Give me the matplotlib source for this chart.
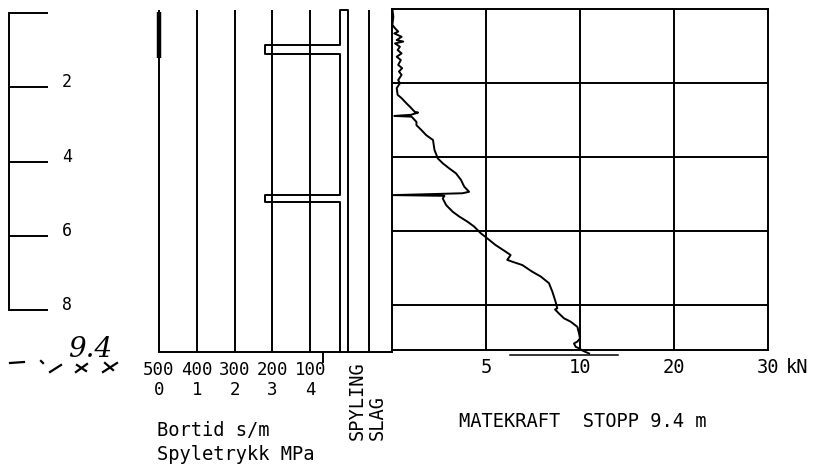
import numpy as np
import matplotlib
matplotlib.use("Agg")
import matplotlib.pyplot as plt
from matplotlib.lines import Line2D
from matplotlib.transforms import blended_transform_factory

# ---------------- data ----------------
depth_ticks = [2, 4, 6, 8]
depth_labels = ["2", "4", "6", "8"]

bortid_ticks = [500, 400, 300, 200, 100]          # s/m
bortid_labels = ["500", "400", "300", "200", "100"]
spyletrykk_ticks = [0, 1, 2, 3, 4]                 # MPa
spyletrykk_labels = ["0", "1", "2", "3", "4"]
bortid_max_depth = [0.05, 1.3]                     # bortid off scale (>=500 s/m)

spyling_intervals = [(0.95, 1.19), (5.00, 5.19)]   # depth intervals with flushing

kraft_scale_pts = [0, 5, 10, 20, 30]               # kN, piecewise axis
kraft_ticks = [5, 10, 20, 30]
kraft_labels = ["5", "10", "20", "30"]
kraft_depth = [0.00, 0.21, 0.43, 0.52, 0.61, 0.66, 0.75, 0.84, 0.88, 0.93,
               1.02, 1.11, 1.20, 1.29, 1.38, 1.51, 1.60, 1.69, 1.78, 1.92,
               2.01, 2.14, 2.32, 2.41, 2.55, 2.64, 2.78, 2.80, 2.86, 2.89,
               2.91, 3.05, 3.14, 3.27, 3.41, 3.54, 3.81, 4.04, 4.17, 4.31,
               4.44, 4.62, 4.80, 4.94, 4.98, 5.03, 5.05, 5.12, 5.30, 5.48,
               5.61, 5.75, 5.88, 6.06, 6.20, 6.38, 6.56, 6.65, 6.78, 6.83,
               6.92, 7.10, 7.23, 7.41, 7.64, 7.91, 8.09, 8.12, 8.23, 8.36,
               8.45, 8.59, 8.77, 8.90, 8.99, 9.04, 9.13, 9.17, 9.23, 9.31]
kraft_kn = [0.02, 0.07, 0.02, 0.16, 0.33, 0.12, 0.51, 0.25, 0.60, 0.16,
            0.42, 0.30, 0.51, 0.25, 0.47, 0.33, 0.54, 0.37, 0.51, 0.33,
            0.42, 0.25, 0.30, 0.51, 0.77, 0.95, 1.21, 1.39, 1.00, 0.12,
            1.04, 1.30, 1.30, 1.56, 1.82, 2.18, 2.26, 2.44, 2.70, 3.05,
            3.40, 3.67, 3.84, 4.10, 3.75, 0.07, 2.79, 2.70, 2.88, 3.23,
            3.58, 4.02, 4.37, 4.72, 5.07, 5.51, 6.05, 6.31, 6.13, 6.40,
            6.93, 7.46, 7.91, 8.35, 8.53, 8.70, 8.79, 8.67, 8.88, 9.15,
            9.50, 9.86, 9.95, 10.00, 9.86, 9.68, 9.77, 9.95, 10.25, 10.96]
stop_depth = 9.35
stop_line_kn = [6.3, 14.0]

# ---------------- layout helpers ----------------
W, H = 819, 470
PX_PER_M = 37.0
fig = plt.figure(figsize=(W / 100, H / 100), dpi=100)
fig.patch.set_facecolor("white")
FONT = ["DejaVu Sans Mono", "DejaVu Sans"]


def rect(x0, y0, x1, y1):
    return [x0 / W, 1 - y1 / H, (x1 - x0) / W, (y1 - y0) / H]


def fy(y):
    return 1 - y / H


LW = 1.4

# ---------------- left depth scale ----------------
axd = fig.add_axes(rect(9, 13, 48, 310))
axd.set_xlim(0, 1)
axd.set_ylim(8, 0)
for s in ["top", "right", "bottom"]:
    axd.spines[s].set_visible(False)
axd.spines["left"].set_linewidth(LW)
axd.set_xticks([])
axd.set_yticks([])
axd.hlines([0] + depth_ticks, 0, 1, color="k", lw=LW, clip_on=False)
for d, lab in zip(depth_ticks, depth_labels):
    axd.text(1.49, d, lab, ha="center", va="baseline", fontsize=12,
             family=FONT, clip_on=False)

# ---------------- bortid / spyletrykk panel ----------------
px_per_s = (348 - 159) / 500.0
s_right = -(392 - 348) / px_per_s
bot_depth = (352 - 10) / PX_PER_M
axb = fig.add_axes(rect(159, 10, 392, 352))
axb.set_xlim(500, s_right)
axb.set_ylim(bot_depth, 0)
for s in ["top", "right", "left"]:
    axb.spines[s].set_visible(False)
axb.spines["bottom"].set_linewidth(LW)
axb.set_xticks([])
axb.set_yticks([])
axb.vlines(bortid_ticks, 0, bot_depth, color="k", lw=LW, clip_on=False)
axb.plot([500, 500], bortid_max_depth, color="k", lw=3.2,
         solid_capstyle="butt", clip_on=False)

# spyling column outline
s_in, s_out = (348 - 340) / px_per_s, (348 - 265) / px_per_s
xs = [0, 0, s_in, s_in]
ys = [bot_depth, 0, 0, spyling_intervals[0][0]]
for k, (a, b) in enumerate(spyling_intervals):
    xs += [s_out, s_out, s_in]
    ys += [a, b, b]
    nxt = spyling_intervals[k + 1][0] if k + 1 < len(spyling_intervals) else bot_depth
    xs += [s_in]
    ys += [nxt]
axb.plot(xs, ys, color="k", lw=LW, clip_on=False)
# slag column separator
axb.axvline(-(369 - 348) / px_per_s, color="k", lw=LW)
# small tick below baseline
s_tick = (348 - 323) / px_per_s
axb.plot([s_tick, s_tick], [bot_depth, bot_depth + 10 / PX_PER_M], color="k",
         lw=LW, clip_on=False)

tb = blended_transform_factory(axb.transData, fig.transFigure)
for v, lab in zip(bortid_ticks, bortid_labels):
    axb.text(v, fy(375), lab, transform=tb, ha="center", va="baseline",
             fontsize=12.5, family=FONT)
for p, lab in zip(spyletrykk_ticks, spyletrykk_labels):
    axb.text(500 - 100 * p, fy(395), lab, transform=tb, ha="center",
             va="baseline", fontsize=12.5, family=FONT)

fig.text(157 / W, fy(436), "Bortid s/m", ha="left", va="baseline",
         fontsize=13.5, family=FONT)
fig.text(157 / W, fy(460), "Spyletrykk MPa", ha="left", va="baseline",
         fontsize=13.5, family=FONT)
fig.text(357 / W, fy(440), "SPYLING", rotation=90, ha="center", va="bottom",
         fontsize=13.5, family=FONT)
fig.text(377 / W, fy(440), "SLAG", rotation=90, ha="center", va="bottom",
         fontsize=13.5, family=FONT)

# ---------------- matekraft panel ----------------
pos_pts = np.arange(len(kraft_scale_pts), dtype=float)


def fwd(x):
    return np.interp(x, kraft_scale_pts, pos_pts)


def inv(p):
    return np.interp(p, pos_pts, kraft_scale_pts)


axk = fig.add_axes(rect(392, 9, 768, 350))
axk.set_xscale("function", functions=(fwd, inv))
axk.set_xlim(0, 30)
axk.set_ylim((350 - 9) / PX_PER_M, 0)
for s in axk.spines.values():
    s.set_linewidth(LW)
axk.set_xticks([])
axk.set_yticks([])
for v in kraft_ticks[:-1]:
    axk.axvline(v, color="k", lw=LW)
for d in depth_ticks:
    axk.axhline(d, color="k", lw=LW)
axk.plot(kraft_kn, kraft_depth, color="k", lw=1.4, clip_on=False)
axk.plot(stop_line_kn, [stop_depth] * 2, color="k", lw=1.1, clip_on=False)

tk = blended_transform_factory(axk.transData, fig.transFigure)
for v, lab in zip(kraft_ticks, kraft_labels):
    axk.text(v, fy(373), lab, transform=tk, ha="center", va="baseline",
             fontsize=13.5, family=FONT)
fig.text(786 / W, fy(373), "kN", ha="left", va="baseline", fontsize=13.5,
         family=FONT)
fig.text(459 / W, fy(427), "MATEKRAFT  STOPP 9.4 m", ha="left", va="baseline",
         fontsize=13.5, family=FONT)

# ---------------- handwritten marks ----------------
fig.text(90 / W, fy(357), "9.4", ha="center", va="baseline", fontsize=20,
         family="DejaVu Serif", style="italic")
scribbles = [((10, 363), (24, 362)), ((41, 361), (43, 363)),
             ((50, 372), (61, 365)),
             ((76, 372), (87, 364)), ((77, 365), (86, 371)),
             ((103, 372), (117, 363)), ((105, 363), (113, 370))]
for (x0, y0), (x1, y1) in scribbles:
    fig.add_artist(Line2D([x0 / W, x1 / W], [fy(y0), fy(y1)],
                          transform=fig.transFigure, color="k", lw=1.6))

fig.savefig("out.png", dpi=100, facecolor="white")
